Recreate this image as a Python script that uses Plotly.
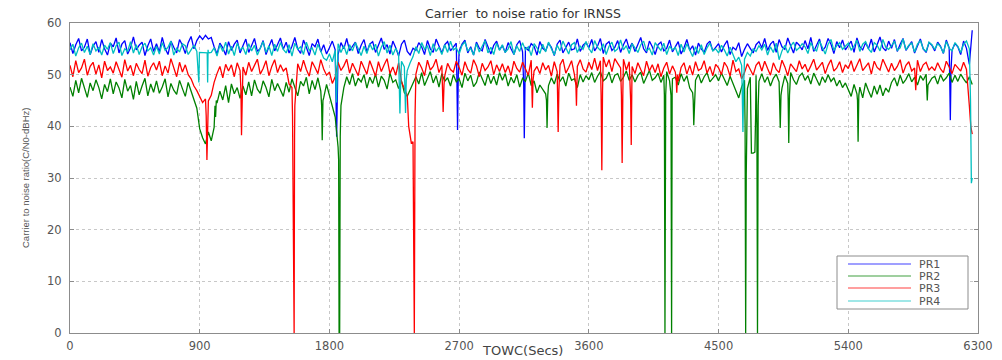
import plotly.graph_objects as go

# time base (seconds), one sample every 20 s from 0 to 6260
t_step = 20

pr1_base = [
    56.2, 54.1, 55.8, 57.0, 54.6, 55.3, 56.9, 53.9, 55.5, 56.4, 54.3, 56.8, 55.0, 53.8, 56.1,
    55.4, 57.1, 54.2, 55.9, 56.6, 54.0, 55.2, 57.3, 54.8, 55.7, 56.3, 53.7, 55.6, 56.9, 54.5,
    56.0, 54.4, 57.2, 55.1, 53.9, 56.5, 55.3, 54.2, 56.8, 55.7, 54.1, 56.2, 57.4, 55.0, 56.6,
    57.5, 56.8, 57.6, 56.9, 57.2, 55.4, 54.0, 56.1, 55.2, 53.8, 56.4, 54.7, 55.9, 56.7, 54.2,
    55.6, 56.9, 54.3, 55.8, 57.0, 54.5, 55.1, 56.6, 53.9, 55.4, 56.8, 54.6, 55.7, 57.1, 54.9,
    56.3, 54.2, 55.5, 57.2, 55.0, 54.1, 56.7, 55.3, 53.7, 56.0, 55.4, 56.9, 54.4, 55.8, 54.0,
    55.2, 56.5, 54.8, 53.9, 56.2, 55.0, 57.0, 54.6, 55.5, 56.3, 54.1, 55.7, 56.8, 54.4, 55.9,
    56.4, 54.3, 55.6, 57.1, 54.9, 55.8, 54.0, 56.5, 55.2, 53.6, 55.9, 56.7, 54.5, 53.8, 55.1,
    54.7, 56.2, 55.4, 53.9, 56.6, 55.0, 54.3, 56.9, 55.5, 54.2, 55.8, 56.4, 54.6, 55.3, 56.1,
    54.5, 55.9, 56.7, 54.2, 55.4, 53.8, 56.3, 55.1, 54.6, 56.8, 55.2, 54.0, 55.7, 56.5, 54.8,
    55.6, 54.3, 56.2, 55.0, 53.9, 55.8, 56.6, 54.4, 55.3, 54.7, 56.0, 55.5, 53.8, 56.4, 55.1,
    54.6, 56.1, 55.3, 53.7, 55.9, 56.7, 54.2, 55.4, 56.3, 54.8, 55.0, 56.9, 54.5, 55.7, 56.2,
    55.2, 56.8, 54.6, 55.5, 57.0, 54.1, 55.9, 56.4, 54.7, 55.3, 56.6, 54.3, 55.8, 56.9, 55.0,
    56.1, 54.5, 55.7, 57.2, 55.0, 54.2, 56.5, 55.4, 53.9, 55.8, 56.3, 54.6, 55.1, 56.7, 54.4,
    55.5, 56.4, 54.0, 55.2, 56.8, 54.7, 55.6, 53.8, 56.1, 55.0, 54.3, 55.9, 56.5, 54.6, 55.3,
    56.0, 54.4, 55.7, 56.6, 53.9, 55.3, 54.8, 56.2, 53.5, 54.9, 56.0, 55.1, 54.2, 55.8, 56.4,
    55.2, 57.0, 54.7, 55.9, 56.5, 54.3, 56.8, 55.4, 54.9, 57.1, 55.6, 54.2, 56.3, 55.7, 54.8,
    56.6, 55.0, 57.2, 54.5, 55.8, 56.9, 54.6, 55.3, 57.0, 55.9, 54.1, 56.4, 55.2, 56.7, 54.8,
    55.7, 56.5, 54.3, 57.1, 55.4, 54.8, 56.2, 55.0, 56.9, 54.4, 55.8, 57.3, 55.2, 54.6, 56.5,
    55.1, 56.8, 54.5, 55.9, 57.0, 54.7, 55.6, 56.4, 54.2, 55.5, 56.9, 55.0, 54.3, 56.2, 55.7,
    54.6, 56.3, 55.5, 54.1, 56.7, 55.2, 54.8, 56.0, 55.4, 53.9, 56.5, 55.1, 52.0, 58.6,
]
pr2_base = [
    47.6, 45.8, 48.9, 46.5, 49.3, 47.2, 45.6, 48.4, 46.9, 49.0, 47.5, 45.3, 48.1, 46.7, 49.2,
    46.3, 48.6, 47.4, 45.5, 49.1, 46.8, 47.9, 45.2, 48.7, 46.1, 47.8, 49.3, 45.9, 48.2, 46.6,
    48.8, 46.4, 47.6, 49.2, 45.7, 48.3, 47.0, 46.2, 48.9, 47.3, 45.8, 48.5, 46.9, 45.0, 43.5,
    39.5, 37.8, 36.6, 38.9, 37.2, 39.8, 44.5, 46.8, 45.1, 47.9, 44.6, 48.2, 46.3, 47.5, 45.4,
    47.8, 46.1, 48.6, 45.9, 49.0, 47.2, 46.4, 48.8, 47.5, 45.7, 49.1, 46.9, 48.3, 47.0, 45.8,
    48.5, 46.6, 49.2, 47.4, 45.9, 48.7, 47.8, 49.5, 46.3, 48.9, 47.1, 49.4, 46.8, 45.5, 48.1,
    46.0, 43.5, 41.8, 36.0, 44.0, 47.5, 49.6, 48.1, 50.2, 47.8, 49.3, 48.6, 50.0, 47.4, 49.5,
    48.3, 50.1, 47.6, 49.7, 48.9, 47.2, 50.3, 48.5, 49.0, 47.3, 48.8, 46.5, 45.8, 47.0, 48.2,
    49.6, 48.2, 50.4, 47.9, 49.1, 50.6, 48.4, 49.8, 47.6, 50.2, 48.7, 49.4, 47.8, 50.0, 48.6,
    49.2, 47.5, 50.3, 48.8, 49.9, 47.7, 48.5, 50.5, 49.0, 47.9, 50.1, 48.3, 49.7, 48.0, 50.4,
    48.9, 50.2, 47.8, 49.5, 48.4, 50.0, 47.6, 49.3, 48.7, 50.3, 47.9, 48.8, 46.5, 48.0, 47.2,
    46.3, 47.9, 49.4, 48.2, 50.1, 48.7, 49.6, 47.8, 50.3, 48.9, 49.2, 47.5, 50.0, 48.6, 49.8,
    49.0, 50.4, 48.5, 49.7, 50.6, 48.8, 49.3, 50.5, 48.4, 49.9, 50.2, 48.7, 49.5, 50.7, 48.9,
    50.0, 48.6, 49.8, 50.5, 48.3, 49.6, 50.8, 48.9, 49.4, 50.3, 48.5, 49.9, 50.6, 48.8, 49.2,
    49.5, 48.0, 50.2, 48.7, 49.8, 47.4, 46.5, 48.9, 50.1, 48.4, 49.6, 50.4, 48.6, 49.3, 50.0,
    48.8, 50.3, 49.1, 47.9, 49.7, 48.4, 46.8, 45.5, 47.6, 48.9, 47.3, 49.5, 34.8, 49.9, 48.7,
    50.2, 48.5, 49.6, 47.8, 49.3, 50.1, 48.6, 47.4, 49.8, 48.3, 50.4, 49.0, 48.1, 49.7, 50.3,
    48.9, 49.8, 48.2, 50.3, 49.1, 47.9, 49.6, 48.5, 50.0, 48.7, 49.4, 47.8, 48.9, 47.5, 48.4,
    47.2, 45.8, 48.1, 46.3, 47.6, 45.5, 48.4, 46.9, 45.6, 47.8, 46.2, 48.0, 45.9, 47.4, 46.6,
    48.5, 49.4, 47.8, 49.9, 48.3, 49.1, 50.2, 48.6, 49.5, 48.0, 49.8, 48.9, 50.1, 48.4, 49.3,
    49.7, 48.2, 50.0, 48.8, 49.4, 50.3, 48.5, 49.9, 48.7, 50.1, 49.2, 48.4, 49.6, 48.1,
]
pr3_base = [
    51.8, 49.6, 52.7, 50.4, 51.3, 53.0, 49.9, 51.6, 52.4, 50.1, 51.9, 49.4, 52.6, 50.8, 51.5,
    50.3, 52.5, 51.1, 49.5, 52.9, 50.7, 51.8, 49.8, 52.2, 51.0, 50.2, 52.8, 49.7, 51.4, 52.3,
    50.9, 52.6, 49.8, 51.7, 50.3, 53.1, 51.2, 49.6, 52.4, 50.5, 51.9, 50.0, 49.2, 47.8, 46.9,
    45.8, 44.6, 45.3, 44.9, 46.0, 48.5, 50.2, 51.6, 49.4, 52.0, 50.7, 51.9, 49.6, 52.3, 50.8,
    51.5, 49.9, 52.4, 50.6, 51.8, 53.0, 50.1, 51.2, 52.7, 49.8, 51.6, 52.9, 50.4, 51.9, 50.7,
    51.3, 48.2, 47.5, 44.0, 52.1, 50.6, 52.8, 51.0, 49.7, 52.5, 51.4, 50.2, 52.9, 51.1, 49.9,
    50.5, 48.3, 49.6, 52.4, 50.8, 51.7, 53.0, 50.3, 52.2, 51.0, 49.8, 52.6, 51.4, 50.1, 52.7,
    51.2, 49.7, 52.5, 50.6, 51.9, 53.1, 50.2, 51.5, 49.9, 52.3, 48.6, 47.2, 46.0, 38.5, 37.0,
    50.1, 52.4, 51.3, 49.8, 52.8, 50.9, 51.6, 53.0, 50.4, 51.8, 49.7, 52.2, 51.0, 50.5, 52.6,
    51.4, 49.9, 52.5, 51.0, 50.3, 52.9, 51.7, 49.6, 52.2, 50.8, 51.5, 52.7, 50.0, 51.9, 50.6,
    52.1, 50.4, 51.7, 49.8, 52.6, 51.2, 50.5, 52.4, 51.0, 49.9, 52.8, 50.7, 51.6, 50.2, 52.3,
    50.9, 51.8, 49.7, 52.5, 50.6, 51.9, 53.0, 50.3, 51.4, 52.7, 50.0, 51.6, 52.9, 51.1, 50.5,
    52.4, 51.0, 53.2, 50.8, 52.7, 53.4, 51.5, 52.9, 50.6, 53.1, 52.2, 51.3, 53.0, 50.9, 52.5,
    51.6, 50.2, 52.3, 51.0, 49.8, 52.6, 50.7, 51.9, 50.4, 52.1, 49.6, 51.3, 52.4, 50.1, 51.7,
    50.5, 48.7, 51.4, 52.3, 50.1, 51.8, 49.9, 52.5, 50.8, 51.2, 52.7, 50.3, 51.6, 49.8, 52.0,
    51.3, 50.0, 52.4, 51.5, 49.7, 52.8, 50.6, 51.1, 49.2, 50.4, 52.1, 51.0, 49.9, 51.8, 52.5,
    50.7, 52.6, 51.2, 49.9, 52.3, 51.0, 50.4, 52.8, 51.5, 49.8, 52.1, 51.3, 50.6, 52.7, 51.1,
    52.0, 50.5, 51.7, 53.0, 50.9, 51.6, 52.4, 50.2, 51.8, 52.9, 50.7, 51.3, 52.5, 50.4, 51.9,
    51.2, 52.7, 50.6, 51.9, 53.1, 50.8, 51.5, 52.3, 50.1, 52.6, 51.4, 50.9, 53.0, 51.7, 50.5,
    52.2, 50.8, 51.6, 52.9, 50.3, 51.8, 52.5, 50.7, 51.3, 52.8, 50.6, 51.9, 52.4, 50.9, 51.5,
    50.8, 52.3, 51.1, 50.4, 52.6, 51.5, 50.2, 52.0, 51.3, 50.7, 52.4, 51.0, 44.0, 38.5,
]
pr4_base = [
    54.8, 55.9, 53.6, 55.2, 56.1, 54.3, 55.5, 53.9, 56.0, 54.6, 55.3, 53.8, 55.7, 54.9, 56.2,
    54.1, 55.6, 56.3, 53.7, 55.0, 54.5, 56.4, 54.2, 55.8, 53.9, 55.4, 56.1, 54.6, 55.2, 53.8,
    55.5, 54.0, 56.2, 54.7, 55.3, 56.5, 53.8, 55.1, 54.4, 56.0, 55.6, 53.9, 54.8, 55.7, 54.5,
    54.3, 54.2, 54.3, 54.2, 54.3, 55.2, 53.6, 55.8, 54.5, 56.3, 54.0, 55.5, 53.7, 56.1, 54.8,
    55.3, 53.9, 56.0, 54.6, 55.7, 53.8, 55.1, 56.4, 54.3, 55.6, 53.7, 55.9, 54.5, 56.2, 54.9,
    54.2, 55.8, 53.6, 56.1, 54.9, 55.4, 53.9, 56.3, 54.7, 55.2, 53.8, 55.9, 54.4, 53.2, 52.8,
    54.0, 52.5, 54.7, 56.0, 54.3, 55.6, 53.9, 55.8, 54.6, 56.2, 55.0, 53.7, 55.5, 54.1, 56.0,
    54.8, 55.9, 53.6, 55.3, 56.4, 54.2, 55.7, 53.8, 55.1, 54.0, 52.6, 51.5, 50.8, 52.3, 53.5,
    55.4, 54.1, 56.2, 54.9, 55.6, 53.7, 56.0, 54.5, 55.3, 53.9, 55.8, 54.3, 56.5, 54.8, 55.2,
    54.0, 55.7, 56.3, 54.6, 55.1, 53.8, 56.0, 54.4, 55.5, 56.6, 54.2, 55.3, 53.9, 56.1, 54.7,
    55.8, 54.3, 55.0, 56.4, 53.9, 55.6, 54.5, 56.2, 54.8, 55.4, 53.7, 56.0, 55.2, 54.1, 55.9,
    54.4, 56.3, 55.0, 53.8, 55.7, 54.6, 56.5, 55.1, 54.0, 55.8, 56.2, 54.3, 55.5, 54.9, 56.4,
    55.1, 54.2, 56.6, 55.3, 54.7, 56.0, 53.9, 55.5, 56.3, 54.5, 55.0, 56.7, 54.8, 55.6, 54.1,
    56.0, 55.2, 54.3, 55.8, 56.5, 54.6, 55.1, 53.8, 56.2, 55.4, 54.7, 56.1, 53.9, 55.5, 54.8,
    55.3, 53.7, 55.9, 54.4, 56.0, 54.9, 53.5, 55.4, 54.1, 55.8, 53.9, 55.2, 56.1, 54.6, 55.0,
    54.2, 55.7, 54.8, 53.6, 55.3, 54.0, 52.5, 53.4, 51.8, 53.0, 54.3, 53.6, 55.0, 54.5, 55.6,
    54.8, 55.9, 53.8, 55.4, 54.3, 56.1, 52.9, 54.6, 55.7, 54.2, 55.5, 56.3, 54.7, 55.2, 56.0,
    55.4, 54.1, 56.2, 55.0, 54.6, 56.5, 55.3, 54.0, 55.9, 56.8, 54.7, 55.6, 56.2, 54.9, 55.5,
    56.1, 54.8, 55.5, 56.7, 54.5, 55.9, 56.4, 55.0, 54.3, 56.2, 55.7, 54.6, 56.8, 55.3, 54.9,
    55.6, 56.5, 54.7, 55.2, 56.9, 54.8, 55.7, 56.1, 54.4, 55.9, 56.6, 55.0, 54.5, 56.3, 55.8,
    54.9, 56.0, 55.4, 54.2, 56.4, 55.1, 54.6, 56.2, 55.5, 54.3, 55.9, 56.5, 55.0, 30.0,
]

# short fades / losses of lock: (TOWC, C/N0)
pr1_dips_t = [1846, 1850, 1855, 2685, 2689, 2694, 3148, 3152, 3156, 6104, 6108, 6113]
pr1_dips_v = [45.0, 38.0, 46.0, 48.0, 39.3, 50.0, 48.0, 37.7, 50.0, 49.0, 41.2, 51.0]

pr2_dips_t = [1006, 1010, 1015, 1746, 1750, 1755, 1864, 1867, 1871, 1875,
              3306, 3310, 3315, 4124, 4128, 4133, 4170, 4174, 4178, 4324, 4328, 4333,
              4684, 4688, 4692, 4697, 4728, 4752, 4757, 4766, 4770, 4775,
              4924, 4928, 4933, 4983, 4987, 4992, 5464, 5468, 5473, 5944, 5948, 5953]
pr2_dips_v = [44.0, 41.8, 45.0, 44.0, 37.3, 45.0, 33.5, 0.0, 0.0, 38.0,
              45.0, 39.7, 46.0, 46.0, 0.0, 46.0, 46.0, 0.0, 47.0, 45.0, 40.2, 46.0,
              40.0, 0.0, 30.6, 40.0, 34.8, 35.0, 42.0, 40.0, 0.0, 44.0,
              45.0, 39.7, 46.0, 45.0, 36.8, 46.0, 45.0, 37.0, 46.0, 47.0, 45.0, 48.0]

pr3_dips_t = [945, 950, 955, 1186, 1190, 1195, 1544, 1549, 1551, 1555, 1558,
              2350, 2368, 2384, 2389, 2394, 2584, 2589, 2595,
              3204, 3208, 3213, 3383, 3387, 3392, 3510, 3514, 3518, 3685, 3690, 3695,
              3826, 3831, 3836, 3890, 3894, 3898, 4206, 4210, 4215, 5864, 5868, 5873, 6250]
pr3_dips_v = [42.0, 33.5, 44.0, 47.0, 38.3, 48.0, 42.0, 15.0, 0.0, 0.0, 38.0,
              40.0, 36.8, 0.0, 0.0, 42.0, 47.0, 42.8, 48.0,
              48.0, 43.6, 49.0, 46.0, 38.9, 47.0, 48.0, 44.0, 49.0, 46.0, 31.5, 47.0,
              46.0, 32.9, 47.0, 45.0, 36.4, 47.0, 49.0, 46.5, 50.0, 49.0, 47.0, 50.0, 40.0]

pr4_dips_t = [894, 898, 952, 955, 958, 1844, 1849, 1854, 2284, 2289, 2294, 2324, 2328, 2333,
              4664, 4669, 4674, 6248, 6254]
pr4_dips_v = [48.5, 54.3, 54.2, 48.5, 54.8, 50.0, 44.6, 50.0, 49.0, 42.5, 48.0, 48.0, 42.6, 49.0,
              47.0, 38.9, 48.0, 45.0, 29.0]

series_names = ["PR1", "PR2", "PR3", "PR4"]
series_colors = ["#0000ff", "#008000", "#ff0000", "#00bfbf"]

x_ticks = [0, 900, 1800, 2700, 3600, 4500, 5400, 6300]
y_ticks = [0, 10, 20, 30, 40, 50, 60]


def merged(base, dips_t, dips_v):
    pts = [(i * t_step, v) for i, v in enumerate(base)]
    pts += list(zip(dips_t, dips_v))
    pts.sort(key=lambda p: p[0])
    return [p[0] for p in pts], [p[1] for p in pts]


all_series = [
    merged(pr1_base, pr1_dips_t, pr1_dips_v),
    merged(pr2_base, pr2_dips_t, pr2_dips_v),
    merged(pr3_base, pr3_dips_t, pr3_dips_v),
    merged(pr4_base, pr4_dips_t, pr4_dips_v),
]

fig = go.Figure()
for (xs, ys), name, col in zip(all_series, series_names, series_colors):
    fig.add_trace(go.Scatter(x=xs, y=ys, mode="lines", name=name,
                             line=dict(color=col, width=1.3)))

FONT = "DejaVu Sans, Verdana, sans-serif"
axis_common = dict(
    showline=True, linecolor="#8c8c8c", linewidth=1, mirror="ticks",
    showgrid=True, gridcolor="#c8c8c8", griddash="dot", gridwidth=1,
    ticks="inside", ticklen=4, tickcolor="#8c8c8c",
    zeroline=False, automargin=False,
    tickfont=dict(family=FONT, size=11.5, color="#555555"),
)

# legend drawn in the MATLAB style (box with long line samples)
L, R, T, B = 70, 978, 23, 333
W, H = R - L, B - T


def px_x(p):
    return (p - L) / W


def px_y(p):
    return (B - p) / H


shapes = [dict(type="rect", xref="paper", yref="paper",
               x0=px_x(837), x1=px_x(968), y0=px_y(309), y1=px_y(256),
               line=dict(color="#8c8c8c", width=1), fillcolor="white", layer="above")]
annotations = []
rows_y = [264, 276, 288, 301]
for name, col, ry in zip(series_names, series_colors, rows_y):
    shapes.append(dict(type="line", xref="paper", yref="paper",
                       x0=px_x(848), x1=px_x(911), y0=px_y(ry), y1=px_y(ry),
                       line=dict(color=col, width=1), opacity=0.75, layer="above"))
    annotations.append(dict(text=name, xref="paper", yref="paper",
                            x=px_x(917), y=px_y(ry), xanchor="left", yanchor="middle",
                            showarrow=False,
                            font=dict(family=FONT, size=11, color="#555555")))

annotations.append(dict(text="TOWC(Secs)", xref="paper", yref="paper",
                        x=px_x(522), y=px_y(350), xanchor="center", yanchor="middle",
                        showarrow=False, font=dict(family=FONT, size=13, color="#444444")))
annotations.append(dict(text="Carrier to noise ratio(C/N0-dBHz)", xref="paper", yref="paper",
                        x=px_x(25), y=px_y(178), xanchor="center", yanchor="middle",
                        textangle=-90, showarrow=False,
                        font=dict(family="Liberation Sans Narrow, Liberation Sans, Arial",
                                  size=9.5, color="#555555")))

fig.update_layout(
    width=1002, height=360,
    margin=dict(l=L, r=1002 - R, t=T, b=360 - B),
    paper_bgcolor="white", plot_bgcolor="white",
    title=dict(text="Carrier\u00a0 to noise ratio for IRNSS", x=523 / 1002,
               xanchor="center", y=1 - 14 / 360, yanchor="middle",
               font=dict(family=FONT, size=12.5, color="#333333")),
    xaxis=dict(range=[0, 6300], tickvals=x_ticks, ticklabelstandoff=2, **axis_common),
    yaxis=dict(range=[0, 60], tickvals=y_ticks, ticklabelstandoff=5, **axis_common),
    shapes=shapes,
    annotations=annotations,
    showlegend=False,
)

fig.write_html("out.html")
